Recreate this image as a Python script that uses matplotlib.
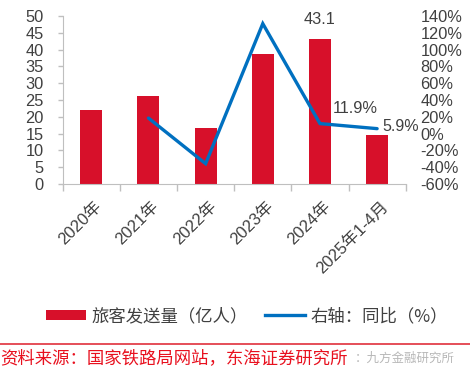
import matplotlib
matplotlib.use("Agg")
import matplotlib.pyplot as plt
import matplotlib.transforms as mtransforms
from matplotlib.patches import Patch
from matplotlib.lines import Line2D
import numpy as np

plt.rcParams['font.family'] = ['Liberation Sans', 'Noto Sans CJK SC', 'DejaVu Sans']

categories = ['2020年', '2021年', '2022年', '2023年', '2024年', '2025年1-4月']
passengers = [22.0, 26.1, 16.7, 38.6, 43.1, 14.6]
yoy_cats = ['2021年', '2022年', '2023年', '2024年', '2025年1-4月']
yoy = [18.5, -35.8, 130.9, 11.9, 5.9]
left_ticks = [0, 5, 10, 15, 20, 25, 30, 35, 40, 45, 50]
right_ticks = [-60, -40, -20, 0, 20, 40, 60, 80, 100, 120, 140]

RED = '#D7102A'
BLUE = '#0070C0'
GREY_TXT = '#404040'
SPINE = '#BFBFBF'

W, H = 470, 372
fig = plt.figure(figsize=(W / 100, H / 100), dpi=100)
ax = fig.add_axes([62.7 / W, 1 - 184 / H, (405.7 - 62.7) / W, (184 - 16) / H])
ax2 = ax.twinx()

x = np.arange(len(categories))
ax.bar(x, passengers, width=0.385, color=RED, zorder=2)
ax.set_xlim(-0.5, len(categories) - 0.5)
ax.set_ylim(0, 50)
ax.set_yticks(left_ticks)
ax.set_yticklabels([str(t) for t in left_ticks])

xi = [categories.index(c) for c in yoy_cats]
ax2.plot(xi, yoy, color=BLUE, lw=2.4, solid_capstyle='round', solid_joinstyle='miter', zorder=3)
ax2.set_ylim(-60, 140)
ax2.set_yticks(right_ticks)
ax2.set_yticklabels([f'{t}%' for t in right_ticks])

# category boundary ticks
ax.set_xticks(np.arange(-0.5, len(categories) + 0.5, 1.0), minor=False)
ax.set_xticklabels([])
ax.tick_params(axis='x', length=5, color=SPINE, width=1)
for i, c in enumerate(categories):
    t = ax.text(i, 0, c, rotation=45, rotation_mode='anchor', ha='right', va='top',
                fontsize=12, color=GREY_TXT,
                transform=ax.get_xaxis_transform())
    off = mtransforms.ScaledTranslation(3 / 100, -15 / 100, fig.dpi_scale_trans)
    t.set_transform(ax.get_xaxis_transform() + off)

ax.tick_params(axis='y', length=3.3, color=SPINE, width=1, pad=10.5, labelsize=11.8, labelcolor=GREY_TXT)
ax2.tick_params(axis='y', length=0, pad=10.5, labelsize=11.8, labelcolor=GREY_TXT)

for a in (ax, ax2):
    for s in ('top', 'right', 'left', 'bottom'):
        a.spines[s].set_visible(False)
ax.spines['left'].set_visible(True)
ax.spines['bottom'].set_visible(True)
ax.spines['left'].set_color(SPINE)
ax.spines['bottom'].set_color(SPINE)

ax.set_zorder(1)
ax2.set_zorder(2)
ax.patch.set_visible(False)

# annotations
ax.annotate('43.1', xy=(4, 43.1), xytext=(0, 14), textcoords='offset points',
            ha='center', va='center', fontsize=11.8, color=GREY_TXT)
ax2.annotate('11.9%', xy=(4, 11.9), xytext=(9.4, 11.2), textcoords='offset points',
             ha='left', va='center', fontsize=11.8, color=GREY_TXT)
ax2.annotate('5.9%', xy=(5, 5.9), xytext=(4.0, 1.8), textcoords='offset points',
             ha='left', va='center', fontsize=11.5, color=GREY_TXT)

handles = [Patch(facecolor=RED, edgecolor='none'), Line2D([0], [0], color=BLUE, lw=2.4)]
labels = ['旅客发送量（亿人）', '右轴：同比（%）']
fig.legend(handles, labels, loc='center', bbox_to_anchor=(247 / W, 1 - 316 / H), ncol=2,
           frameon=False, handlelength=2.3, handleheight=0.55,
           handletextpad=0.3, columnspacing=1.0,
           prop={'family': ['Noto Sans CJK SC'], 'size': 12.5},
           labelcolor=GREY_TXT)

fig.add_artist(Line2D([0, 1], [1 - 344 / H, 1 - 344 / H], transform=fig.transFigure,
                      color='#E0303C', lw=1.2))
fig.text(0 / W, 1 - 358 / H, '资料来源：国家铁路局网站，东海证券研究所', ha='left', va='center',
         fontsize=12.5, color='#E8101E', family=['Noto Sans CJK SC'])
fig.text(355 / W, 1 - 358 / H, '：九方金融研究所', ha='left', va='center',
         fontsize=9, color='#B8B8B8', family=['Noto Sans CJK SC'])

fig.savefig('out.png', dpi=100)
